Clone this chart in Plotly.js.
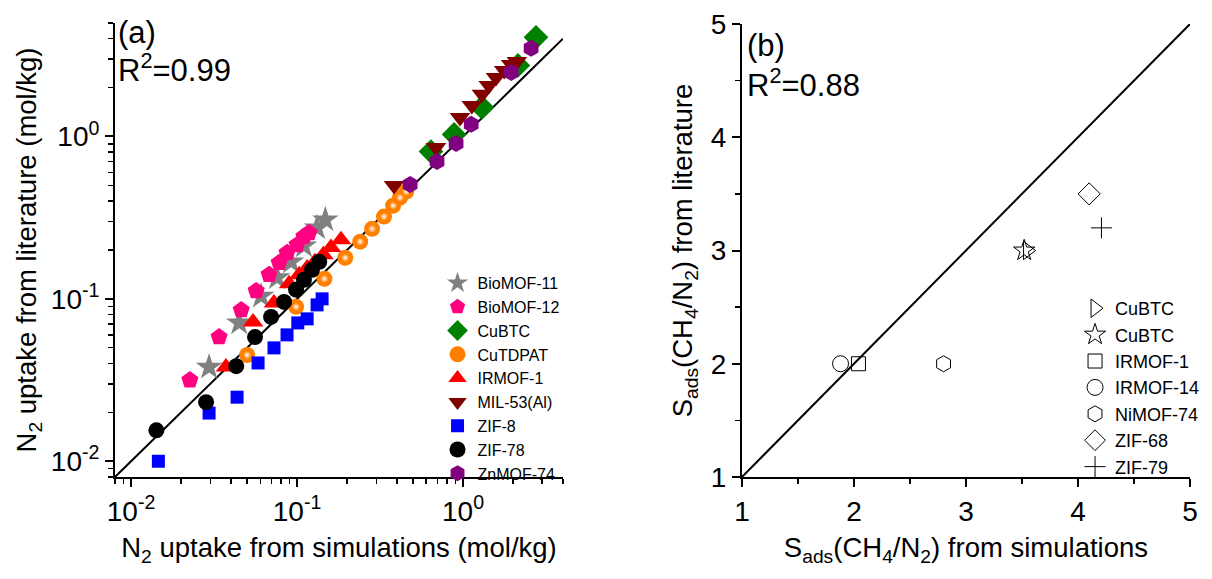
<!DOCTYPE html>
<html><head><meta charset="utf-8">
<script src="https://cdn.plot.ly/plotly-3.0.1.min.js"></script>
<style>html,body{margin:0;padding:0;background:#fff}#chart{width:1212px;height:579px}</style>
</head><body><div id="chart"></div>
<script>
// ---------- Panel (a): N2 uptake, simulation (x) vs literature (y), mol/kg ----------
const bioMOF11Sim = [0.0295, 0.0448, 0.0607, 0.0758, 0.092, 0.110, 0.132, 0.148];
const bioMOF11Lit = [0.038, 0.0711, 0.104, 0.135, 0.169, 0.212, 0.274, 0.307];

const bioMOF12Sim = [0.0226, 0.0339, 0.0461, 0.0567, 0.0678, 0.078, 0.087, 0.100, 0.110, 0.118];
const bioMOF12Lit = [0.0316, 0.0582, 0.0855, 0.112, 0.141, 0.167, 0.192, 0.215, 0.242, 0.255];

const cuBTCSim = [0.641, 0.883, 1.30, 2.14, 2.75];
const cuBTCLit = [0.807, 1.03, 1.51, 2.74, 4.08];

const cuTDPATSim = [0.050, 0.0986, 0.146, 0.195, 0.240, 0.283, 0.334, 0.379, 0.417, 0.454];
const cuTDPATLit = [0.0451, 0.0893, 0.133, 0.179, 0.225, 0.270, 0.321, 0.375, 0.420, 0.457];

const irmof1Sim = [0.0373, 0.0543, 0.0726, 0.0895, 0.103, 0.115, 0.128, 0.144, 0.160, 0.184];
const irmof1Lit = [0.038, 0.0721, 0.0944, 0.124, 0.141, 0.155, 0.169, 0.187, 0.207, 0.231];

const mil53Sim = [0.384, 0.687, 0.959, 1.13, 1.30, 1.43, 1.58, 1.77, 1.95, 2.11];
const mil53Lit = [0.499, 0.855, 1.31, 1.55, 1.82, 2.06, 2.31, 2.55, 2.78, 2.90];

const zif8Sim = [0.0146, 0.0295, 0.0435, 0.0582, 0.0726, 0.087, 0.101, 0.115, 0.132, 0.1415];
const zif8Lit = [0.0100, 0.0198, 0.0248, 0.0403, 0.0499, 0.060, 0.0711, 0.0753, 0.0918, 0.100];

const zif78Sim = [0.0142, 0.0283, 0.0430, 0.0558, 0.0697, 0.0835, 0.0986, 0.110, 0.123, 0.136];
const zif78Lit = [0.0155, 0.0231, 0.0385, 0.0582, 0.0774, 0.0958, 0.114, 0.131, 0.151, 0.169];

const znMOF74Sim = [0.480, 0.697, 0.908, 1.12, 1.95, 2.57];
const znMOF74Lit = [0.506, 0.702, 0.906, 1.19, 2.48, 3.49];

// ---------- Panel (b): S_ads(CH4/N2), simulation (x) vs literature (y) ----------
const selNames = ["CuBTC", "CuBTC", "IRMOF-1", "IRMOF-14", "NiMOF-74", "ZIF-68", "ZIF-79"];
const selSim   = [3.55, 3.52, 2.04, 1.88, 2.80, 4.10, 4.21];
const selLit   = [3.00, 3.00, 2.00, 2.00, 2.00, 3.50, 3.20];

// axis limits and tick labels
const aRangeX = [0.008, 4];
const aRangeY = [0.008, 5];
const aTickVals = [0.01, 0.1, 1];
const aTickText = ["10<sup>-2</sup>", "10<sup>-1</sup>", "10<sup>0</sup>"];
const bRange = [1, 5];

// minor log ticks (2..9 per decade)
const minorLog = [];
for (let d = -3; d <= 1; d++) for (let k = 2; k <= 9; k++) minorLog.push(k * Math.pow(10, d));

const FONT = "Liberation Sans, Arial, sans-serif";

function ser(name, x, y, symbol, color, size, extra, more) {
  const m = Object.assign({symbol: symbol, color: color, size: size, line: {width: 0}}, extra || {});
  return Object.assign({type: "scatter", mode: "markers", name: name, x: x, y: y, xaxis: "x", yaxis: "y",
          legend: "legend", marker: m, cliponaxis: false}, more || {});
}

const traces = [
  {type: "scatter", mode: "lines", x: aRangeX, y: aRangeX, xaxis: "x", yaxis: "y",
   line: {color: "#000", width: 2}, showlegend: false, hoverinfo: "skip"},
  ser("BioMOF-11", bioMOF11Sim, bioMOF11Lit, "star", "#808080", 20),
  ser("BioMOF-12", bioMOF12Sim, bioMOF12Lit, "pentagon", "#ff0080", 18),
  ser("CuBTC", cuBTCSim, cuBTCLit, "diamond", "#008000", 19),
  ser("CuTDPAT", cuTDPATSim, cuTDPATLit, "circle", "#ff8000", 16),
  ser("CuTDPAT", cuTDPATSim, cuTDPATLit, "circle", "#ff8000", 8,
      {gradient: {type: "radial", color: "#ffffff"}}, {showlegend: false}),
  ser("IRMOF-1", irmof1Sim, irmof1Lit, "triangle-up", "#ff0000", 18),
  ser("MIL-53(Al)", mil53Sim, mil53Lit, "triangle-down", "#800000", 18),
  ser("ZIF-8", zif8Sim, zif8Lit, "square", "#0000ff", 13),
  ser("ZIF-78", zif78Sim, zif78Lit, "circle", "#000000", 16),
  ser("ZnMOF-74", znMOF74Sim, znMOF74Lit, "hexagon", "#800080", 17),
  {type: "scatter", mode: "lines", x: bRange, y: bRange, xaxis: "x2", yaxis: "y2",
   line: {color: "#000", width: 2}, showlegend: false, hoverinfo: "skip"}
];

const selSymbols = ["triangle-right-open", "star-open", "square-open", "circle-open", "hexagon-open", "diamond-open", "cross-thin-open"];
const selSizes = [16, 16, 14, 16, 16, 17, 15];
for (let i = 0; i < selNames.length; i++) {
  traces.push({type: "scatter", mode: "markers", name: selNames[i], x: [selSim[i]], y: [selLit[i]],
    xaxis: "x2", yaxis: "y2", legend: "legend2",
    marker: {symbol: selSymbols[i], color: "#000", size: selSizes[i], line: {width: 1, color: "#000"}}});
}

const axBase = {showline: true, linewidth: 2, linecolor: "#000", showgrid: false, zeroline: false,
  ticks: "outside", ticklen: 8, tickwidth: 2, tickcolor: "#000", mirror: false,
  tickfont: {family: FONT, size: 28, color: "#000"}};
const TITLE_FONT = {family: FONT, size: 27.5, color: "#000"};

const layout = {
  width: 1212, height: 579,
  margin: {l: 0, r: 0, t: 0, b: 0},
  paper_bgcolor: "#fff", plot_bgcolor: "rgba(0,0,0,0)",
  font: {family: FONT, color: "#000"},
  showlegend: true,
  xaxis: Object.assign({}, axBase, {type: "log", domain: [0.0949, 0.4645], anchor: "y",
    range: [Math.log10(aRangeX[0]), Math.log10(aRangeX[1])], tickmode: "array",
    tickvals: aTickVals, ticktext: aTickText,
    minor: {tickmode: "array", tickvals: minorLog, ticks: "outside", ticklen: 5, tickwidth: 1.5, tickcolor: "#000", showgrid: false},
    title: {text: "N<sub>2</sub> uptake from simulations (mol/kg)", font: TITLE_FONT, standoff: 12}}),
  yaxis: Object.assign({}, axBase, {type: "log", domain: [0.1762, 0.9603], anchor: "x",
    range: [Math.log10(aRangeY[0]), Math.log10(aRangeY[1])], tickmode: "array",
    tickvals: aTickVals, ticktext: aTickText,
    minor: {tickmode: "array", tickvals: minorLog, ticks: "outside", ticklen: 5, tickwidth: 1.5, tickcolor: "#000", showgrid: false},
    title: {text: "N<sub>2</sub> uptake from literature (mol/kg)", font: TITLE_FONT, standoff: 6}}),
  xaxis2: Object.assign({}, axBase, {domain: [0.6122, 0.9818], anchor: "y2", range: bRange,
    dtick: 1, tick0: 1,
    minor: {dtick: 0.5, ticks: "outside", ticklen: 5, tickwidth: 1.5, tickcolor: "#000", showgrid: false},
    title: {text: "S<sub>ads</sub>(CH<sub>4</sub>/N<sub>2</sub>) from simulations", font: TITLE_FONT, standoff: 12}}),
  yaxis2: Object.assign({}, axBase, {domain: [0.1762, 0.9585], anchor: "x2", range: bRange,
    dtick: 1, tick0: 1,
    minor: {dtick: 0.5, ticks: "outside", ticklen: 5, tickwidth: 1.5, tickcolor: "#000", showgrid: false},
    title: {text: "S<sub>ads</sub>(CH<sub>4</sub>/N<sub>2</sub>) from literature", font: TITLE_FONT, standoff: 10}}),
  legend: {x: 0.361, y: 0.5406, xanchor: "left", yanchor: "top", bgcolor: "rgba(0,0,0,0)",
    font: {family: FONT, size: 16, color: "#000"}, tracegroupgap: 0, itemsizing: "trace"},
  legend2: {x: 0.887, y: 0.4991, xanchor: "left", yanchor: "top", bgcolor: "rgba(0,0,0,0)",
    font: {family: FONT, size: 18, color: "#000"}, tracegroupgap: 0, itemsizing: "trace"},
  annotations: [
    {text: "(a)", xref: "paper", yref: "paper", x: 116 / 1212, y: 1 - 32 / 579, xanchor: "left", yanchor: "middle", showarrow: false, font: {family: FONT, size: 31}},
    {text: "R<sup>2</sup>=0.99", xref: "paper", yref: "paper", x: 116 / 1212, y: 1 - 68 / 579, xanchor: "left", yanchor: "middle", showarrow: false, font: {family: FONT, size: 31}},
    {text: "(b)", xref: "paper", yref: "paper", x: 745 / 1212, y: 1 - 45 / 579, xanchor: "left", yanchor: "middle", showarrow: false, font: {family: FONT, size: 31}},
    {text: "R<sup>2</sup>=0.88", xref: "paper", yref: "paper", x: 745 / 1212, y: 1 - 83 / 579, xanchor: "left", yanchor: "middle", showarrow: false, font: {family: FONT, size: 31}}
  ]
};

Plotly.newPlot("chart", traces, layout, {staticPlot: true, displayModeBar: false});
</script>
</body></html>
